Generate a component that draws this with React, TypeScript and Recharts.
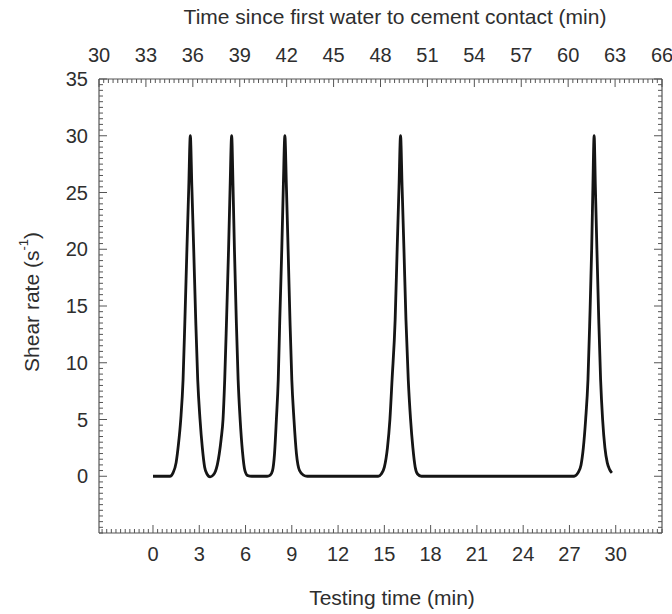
import { LineChart, Line, XAxis, YAxis } from "recharts";

// testing time (min) and shear rate (1/s)
const timeMin = [
  0, 0.6, 1.1, 1.3, 1.5, 1.65, 1.8, 1.95, 2.07, 2.2, 2.32, 2.42, 2.52, 2.64, 2.77, 2.9, 3.05, 3.2, 3.35,
  3.5, 3.7, 3.9, 4.05, 4.17, 4.3, 4.42, 4.54, 4.65, 4.77, 4.9, 5.0, 5.1, 5.19, 5.28, 5.4, 5.52, 5.65, 5.8,
  5.96, 6.15, 6.4, 7.4, 7.6, 7.75, 7.88, 8.0, 8.12, 8.22, 8.35, 8.45, 8.55, 8.65, 8.76, 8.88, 9.0,
  9.14, 9.3, 9.5, 9.75, 10, 12, 14.6, 14.8, 15.0, 15.2, 15.36, 15.5, 15.7, 15.83, 15.95, 16.05,
  16.15, 16.27, 16.4, 16.55, 16.7, 16.85, 17.0, 17.15, 17.4, 22, 27.3, 27.55, 27.75, 27.9, 28.05,
  28.2, 28.32, 28.44, 28.52, 28.6, 28.68, 28.78, 28.9, 29.02, 29.15, 29.3, 29.45, 29.6, 29.75,
];
const shearRate = [
  0, 0, 0, 0.3, 1.2, 2.8, 5, 8.5, 13.8, 20, 25.5, 30, 25.5, 20, 13.8, 8.5, 5, 2.5, 0.8,
  0.2, -0.05, 0.1, 0.45, 1.0, 2.0, 3.3, 5, 8.5, 13.8, 20, 25.5, 30, 25.5, 20, 13.8, 8.5, 5, 2.2,
  0.5, 0.05, 0, 0, 0.1, 0.5, 2, 5, 8.5, 13.8, 20, 25.5, 30, 25.5, 20, 13.8, 8.5,
  5, 2, 0.5, 0.1, 0, 0, 0, 0.2, 0.8, 2.5, 5, 8.5, 13.8, 20, 25.5, 30,
  25.5, 20, 13.8, 8.5, 5, 2.5, 0.8, 0.2, 0, 0, 0, 0.3, 1.0, 2.5, 5,
  8.5, 13.8, 20, 25.5, 30, 25.5, 20, 13.8, 8.5, 5, 2.5, 1.2, 0.6, 0.3,
];

const bottomTickLabels = [0, 3, 6, 9, 12, 15, 18, 21, 24, 27, 30];
const topTickLabels = [30, 33, 36, 39, 42, 45, 48, 51, 54, 57, 60, 63, 66];
const yTickLabels = [0, 5, 10, 15, 20, 25, 30, 35];

const data = timeMin.map((t, i) => ({ time: t, shear: shearRate[i] }));

// minor tick positions (axis decoration only)
const steps = (from: number, to: number, step: number) =>
  Array.from({ length: Math.round((to - from) / step) + 1 }, (_, i) => +(from + i * step).toFixed(2));
const bottomTicks = steps(-3.3, 33, 0.3);
const topTicks = steps(30, 66, 0.3);
const yTicks = steps(-5, 35, 0.5);

const PLOT = { left: 99, right: 662, top: 79, bottom: 533 };
const FONT = "'Liberation Sans', Arial, sans-serif";
const AXIS_COLOR = "#555";
const TEXT_COLOR = "#2e2e2e";

const isLabel = (v: number, labels: number[]) => labels.some((l) => Math.abs(l - v) < 1e-6);

function BottomTick(props: any) {
  const { x, payload } = props;
  const major = isLabel(payload.value, bottomTickLabels);
  return (
    <g>
      <line x1={x} x2={x} y1={PLOT.bottom} y2={PLOT.bottom - (major ? 8 : 4)} stroke={AXIS_COLOR} />
      {major && (
        <text x={x} y={554} textAnchor="middle" dominantBaseline="central" fontFamily={FONT} fontSize={20} fill={TEXT_COLOR}>
          {payload.value}
        </text>
      )}
    </g>
  );
}

function TopTick(props: any) {
  const { x, payload } = props;
  const major = isLabel(payload.value, topTickLabels);
  return (
    <g>
      <line x1={x} x2={x} y1={PLOT.top} y2={PLOT.top + (major ? 8 : 4)} stroke={AXIS_COLOR} />
      {major && (
        <text x={x} y={55} textAnchor="middle" dominantBaseline="central" fontFamily={FONT} fontSize={20} fill={TEXT_COLOR}>
          {payload.value}
        </text>
      )}
    </g>
  );
}

function LeftTick(props: any) {
  const { y, payload } = props;
  const major = isLabel(payload.value, yTickLabels);
  return (
    <g>
      <line x1={PLOT.left} x2={PLOT.left + (major ? 8 : 4)} y1={y} y2={y} stroke={AXIS_COLOR} />
      {major && (
        <text x={88} y={y} textAnchor="end" dominantBaseline="central" fontFamily={FONT} fontSize={20} fill={TEXT_COLOR}>
          {payload.value}
        </text>
      )}
    </g>
  );
}

function RightTick(props: any) {
  const { y, payload } = props;
  const major = isLabel(payload.value, yTickLabels);
  return <line x1={PLOT.right} x2={PLOT.right - (major ? 8 : 4)} y1={y} y2={y} stroke={AXIS_COLOR} />;
}

const titleStyle = { fontFamily: FONT, fontSize: 21, fill: TEXT_COLOR };

export default function App() {
  return (
    <div style={{ position: "absolute", left: 0, top: 0, background: "#fff" }}>
      <LineChart width={672} height={614} data={data} margin={{ top: 0, right: 0, bottom: 0, left: 0 }}>
        <XAxis
          xAxisId="bottom"
          dataKey="time"
          type="number"
          domain={[-3.5, 33]}
          allowDataOverflow
          ticks={bottomTicks}
          interval={0}
          height={81}
          tickLine={false}
          tick={BottomTick}
          axisLine={{ stroke: AXIS_COLOR, strokeWidth: 1.2 }}
          label={() => (
            <text x={392} y={597} textAnchor="middle" dominantBaseline="central" {...titleStyle}>
              Testing time (min)
            </text>
          )}
        />
        <XAxis
          xAxisId="top"
          orientation="top"
          dataKey="time"
          type="number"
          domain={[30, 66]}
          allowDataOverflow
          ticks={topTicks}
          interval={0}
          height={79}
          tickLine={false}
          tick={TopTick}
          axisLine={{ stroke: AXIS_COLOR, strokeWidth: 1.2 }}
          label={() => (
            <text x={395} y={16} textAnchor="middle" dominantBaseline="central" {...titleStyle}>
              Time since first water to cement contact (min)
            </text>
          )}
        />
        <YAxis
          yAxisId="left"
          type="number"
          domain={[-5, 35]}
          allowDataOverflow
          ticks={yTicks}
          interval={0}
          width={99}
          tickLine={false}
          tick={LeftTick}
          axisLine={{ stroke: AXIS_COLOR, strokeWidth: 1.2 }}
          label={() => (
            <text x={31} y={302} textAnchor="middle" dominantBaseline="central" transform="rotate(-90, 31, 302)" {...titleStyle}>
              Shear rate (s<tspan dy={-8} fontSize={13}>-1</tspan>
              <tspan dy={8}>)</tspan>
            </text>
          )}
        />
        <YAxis
          yAxisId="right"
          orientation="right"
          dataKey="shear"
          type="number"
          domain={[-5, 35]}
          allowDataOverflow
          ticks={yTicks}
          interval={0}
          width={10}
          tickLine={false}
          tick={RightTick}
          axisLine={{ stroke: AXIS_COLOR, strokeWidth: 1.2 }}
        />
        <Line
          xAxisId="bottom"
          yAxisId="left"
          dataKey="shear"
          type="monotone"
          stroke="#151515"
          strokeWidth={2.8}
          dot={false}
          isAnimationActive={false}
        />
      </LineChart>
    </div>
  );
}
